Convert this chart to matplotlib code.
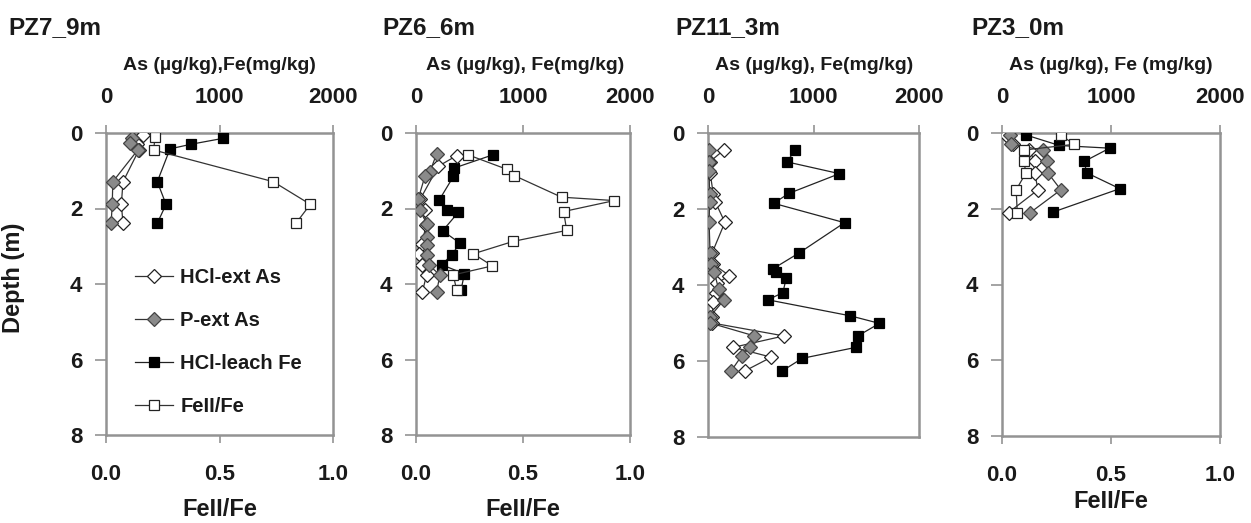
import matplotlib
matplotlib.use("Agg")
import matplotlib.pyplot as plt
from matplotlib.lines import Line2D

plt.rcParams['font.family'] = ['Liberation Sans', 'DejaVu Sans']
plt.rcParams['font.weight'] = 'bold'

# ---------------- data ----------------
titles = ["PZ7_9m", "PZ6_6m", "PZ11_3m", "PZ3_0m"]
top_labels = ["As (µg/kg),Fe(mg/kg)", "As (µg/kg), Fe(mg/kg)",
              "As (µg/kg), Fe(mg/kg)", "As (µg/kg), Fe (mg/kg)"]
legend_labels = ["HCl-ext As", "P-ext As", "HCl-leach Fe", "FeII/Fe"]
top_ticks = [0, 1000, 2000]
bottom_ticks = [0.0, 0.5, 1.0]
depth_ticks = [0, 2, 4, 6, 8]

# PZ7_9m
hclas_d1 = [0.05, 0.30, 0.45, 1.29, 1.89, 2.39]
hclas_v1 = [330, 270, 290, 150, 135, 150]
pext_d1 = [0.14, 0.27, 0.45, 1.29, 1.89, 2.39]
pext_v1 = [230, 215, 280, 60, 55, 45]
fe_d1 = [0.14, 0.30, 0.42, 1.29, 1.89, 2.39]
fe_v1 = [1034, 746, 564, 452, 529, 452]
feii_d1 = [0.10, 0.45, 1.29, 1.89, 2.39]
feii_v1 = [0.216, 0.21, 0.737, 0.90, 0.837]

# PZ6_6m
hclas_d2 = [0.60, 0.88, 1.75, 2.05, 2.45, 2.95, 3.20, 3.50, 3.75, 4.20]
hclas_v2 = [380, 209, 40, 80, 90, 60, 30, 60, 100, 60]
pext_d2 = [0.55, 1.02, 1.14, 1.75, 2.05, 2.40, 2.75, 2.97, 3.23, 3.50, 3.76, 4.20]
pext_v2 = [193, 131, 84, 20, 37, 100, 100, 100, 100, 120, 224, 193]
fe_d2 = [0.58, 0.93, 1.15, 1.77, 2.05, 2.10, 2.59, 2.92, 3.23, 3.49, 3.73, 4.16]
fe_v2 = [717, 355, 350, 218, 287, 396, 249, 411, 333, 240, 452, 421]
feii_d2 = [0.58, 0.96, 1.13, 1.70, 1.79, 2.08, 2.58, 2.87, 3.20, 3.52, 3.76, 4.16]
feii_v2 = [0.244, 0.424, 0.46, 0.68, 0.927, 0.69, 0.704, 0.455, 0.268, 0.357, 0.174, 0.19]

# PZ11_3m
hclas_d3 = [0.45, 0.75, 1.05, 1.60, 1.82, 2.35, 3.15, 3.45, 3.75, 3.95, 4.20, 4.45,
            4.83, 5.00, 5.34, 5.64, 5.90, 6.26]
hclas_v3 = [150, 20, 20, 50, 70, 160, 40, 50, 200, 90, 80, 50, 40, 40, 720, 240, 600, 350]
pext_d3 = [0.45, 0.75, 1.00, 1.60, 1.82, 2.35, 3.15, 3.45, 3.67, 4.10, 4.40, 4.83,
           5.00, 5.34, 5.64, 5.86, 6.26]
pext_v3 = [10, 10, 10, 15, 15, 10, 20, 25, 60, 100, 150, 20, 20, 440, 400, 320, 220]
fe_d3 = [0.44, 0.76, 1.07, 1.59, 1.85, 2.36, 3.15, 3.57, 3.67, 3.81, 4.20, 4.39,
         4.81, 5.01, 5.34, 5.64, 5.93, 6.26]
fe_v3 = [828, 748, 1246, 766, 622, 1294, 867, 618, 647, 742, 710, 568,
         1347, 1625, 1420, 1404, 893, 704]
feii_d3 = []
feii_v3 = []

# PZ3_0m
hclas_d4 = [0.05, 0.30, 0.45, 0.75, 1.05, 1.50, 2.10]
hclas_v4 = [40, 100, 250, 300, 300, 330, 60]
pext_d4 = [0.05, 0.30, 0.45, 0.75, 1.05, 1.50, 2.10]
pext_v4 = [70, 80, 380, 410, 420, 540, 260]
fe_d4 = [0.05, 0.33, 0.40, 0.75, 1.05, 1.47, 2.09]
fe_v4 = [217, 527, 988, 755, 776, 1081, 466]
feii_d4 = [0.05, 0.30, 0.45, 0.75, 1.05, 1.50, 2.10]
feii_v4 = [0.27, 0.33, 0.10, 0.10, 0.11, 0.065, 0.07]

panels = [
    (hclas_d1, hclas_v1, pext_d1, pext_v1, fe_d1, fe_v1, feii_d1, feii_v1),
    (hclas_d2, hclas_v2, pext_d2, pext_v2, fe_d2, fe_v2, feii_d2, feii_v2),
    (hclas_d3, hclas_v3, pext_d3, pext_v3, fe_d3, fe_v3, feii_d3, feii_v3),
    (hclas_d4, hclas_v4, pext_d4, pext_v4, fe_d4, fe_v4, feii_d4, feii_v4),
]

# ---------------- layout ----------------
W, H = 1251, 523
fig = plt.figure(figsize=(W / 100, H / 100), dpi=100)

# (left, right, top, bottom) in pixels
boxes = [(106, 333, 133, 435), (416, 630, 133, 435),
         (708, 919, 133, 437), (1002, 1220, 133, 436)]
title_x = [8, 382, 675, 971]
top_label_cx = [219, 525, 814, 1111]
bottom_label_y = [509, 510, None, 501]

SPINE = '#939393'
TXT = '#1a1a1a'
TICKFS = 16

def style_kw(kind):
    if kind == 'hclas':
        return dict(marker='D', ms=7, mfc='white', mec='#222222', mew=0.9,
                    color='#333333', lw=0.9)
    if kind == 'pext':
        return dict(marker='D', ms=7, mfc='#8a8a8a', mec='#444444', mew=0.9,
                    color='#333333', lw=0.9)
    if kind == 'fe':
        return dict(marker='s', ms=6.8, mfc='black', mec='black', mew=0.9,
                    color='#222222', lw=0.9)
    return dict(marker='s', ms=6.8, mfc='white', mec='#222222', mew=0.9,
                color='#333333', lw=0.9)

for i, (l, r, t, b) in enumerate(boxes):
    rect = [l / W, 1 - b / H, (r - l) / W, (b - t) / H]
    ax = fig.add_axes(rect)
    tw = ax.twiny()

    # main axes: As / Fe on top
    ax.set_xlim(0, 2000)
    ax.set_ylim(8, 0)
    ax.xaxis.tick_top()
    ax.xaxis.set_label_position('top')
    ax.set_xticks(top_ticks)
    ax.set_xticklabels([str(v) for v in top_ticks])
    ax.set_yticks(depth_ticks)
    ax.set_yticklabels([str(v) for v in depth_ticks])
    ax.tick_params(axis='x', which='both', direction='out', length=6, width=1.2,
                   color=SPINE, pad=12, labelsize=TICKFS, labelcolor=TXT,
                   top=True, bottom=False, labeltop=True, labelbottom=False)
    ax.tick_params(axis='y', direction='out', length=8, width=1.2, color=SPINE,
                   pad=9, labelsize=TICKFS, labelcolor=TXT)
    for s in ax.spines.values():
        s.set_color(SPINE)
        s.set_linewidth(1.8)
    for s in tw.spines.values():
        s.set_visible(False)

    # twin: FeII/Fe at the bottom
    tw.set_xlim(0, 1)
    tw.xaxis.tick_bottom()
    tw.xaxis.set_label_position('bottom')
    if i != 2:
        tw.set_xticks(bottom_ticks)
        tw.set_xticklabels([f"{v:.1f}" for v in bottom_ticks])
        tw.tick_params(axis='x', direction='out', length=6, width=1.2, color=SPINE,
                       pad=15, labelsize=TICKFS, labelcolor=TXT,
                       top=False, bottom=True, labeltop=False, labelbottom=True)
    else:
        tw.set_xticks([])

    hd, hv, pd_, pv, fd, fv, qd, qv = panels[i]
    tw.plot(qv, qd, zorder=2, **style_kw('feii'))
    ax.plot(fv, fd, zorder=3, **style_kw('fe'))
    ax.plot(hv, hd, zorder=4, **style_kw('hclas'))
    ax.plot(pv, pd_, zorder=5, **style_kw('pext'))

    # labels
    fig.text(title_x[i] / W, 1 - 28 / H, titles[i], fontsize=17.5, fontweight='bold',
             color=TXT, ha='left', va='center')
    fig.text(top_label_cx[i] / W, 1 - 66 / H, top_labels[i], fontsize=14,
             fontweight='bold', color=TXT, ha='center', va='center')
    if bottom_label_y[i] is not None:
        fig.text(((l + r) / 2) / W, 1 - bottom_label_y[i] / H, "FeII/Fe",
                 fontsize=17, fontweight='bold', color=TXT, ha='center', va='center')
    if i == 0:
        ax.set_ylabel("Depth (m)", fontsize=17, fontweight='bold', color=TXT)
        ax.yaxis.set_label_coords((25 - l) / (r - l), (b - 278) / (b - t))
        handles = [
            Line2D([], [], **style_kw('hclas')),
            Line2D([], [], **style_kw('pext')),
            Line2D([], [], **style_kw('fe')),
            Line2D([], [], **style_kw('feii')),
        ]
        leg = tw.legend(handles, legend_labels, loc='upper left',
                        bbox_to_anchor=((135 - l) / (r - l), (b - 268) / (b - t)),
                        frameon=False, fontsize=14.5, handlelength=1.9,
                        handletextpad=0.35, labelspacing=1.2, borderpad=0,
                        borderaxespad=0)
        for txt in leg.get_texts():
            txt.set_color(TXT)
            txt.set_fontweight('bold')

fig.savefig("out.png", dpi=100)
